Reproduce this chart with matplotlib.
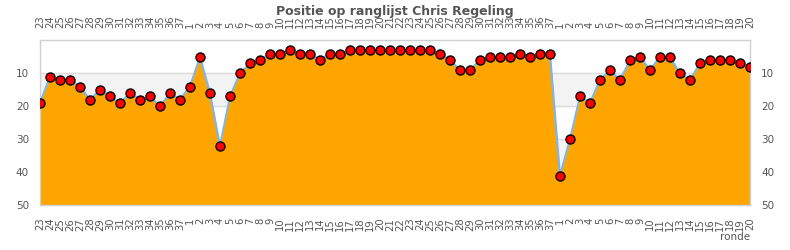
import matplotlib
matplotlib.use("Agg")
import matplotlib.pyplot as plt
import numpy as np

# rondes per seizoen (labels op de x-as)
rondes_1 = [23, 24, 25, 26, 27, 28, 29, 30, 31, 32, 33, 34, 35, 36, 37]
rondes_2 = [1, 2, 3, 4, 5, 6, 7, 8, 9, 10, 11, 12, 13, 14, 15, 16, 17, 18, 19,
            20, 21, 22, 23, 24, 25, 26, 27, 28, 29, 30, 31, 32, 33, 34, 35, 36, 37]
rondes_3 = [1, 2, 3, 4, 5, 6, 7, 8, 9, 10, 11, 12, 13, 14, 15, 16, 17, 18, 19, 20]

# positie op de ranglijst
positie_1 = [19, 11, 12, 12, 14, 18, 15, 17, 19, 16, 18, 17, 20, 16, 18]
positie_2 = [14, 5, 16, 32, 17, 10, 7, 6, 4, 4, 3, 4, 4, 6, 4, 4, 3, 3, 3,
             3, 3, 3, 3, 3, 3, 4, 6, 9, 9, 6, 5, 5, 5, 4, 5, 4, 4]
positie_3 = [41, 30, 17, 19, 12, 9, 12, 6, 5, 9, 5, 5, 10, 12, 7, 6, 6, 6, 7, 8]

labels = [str(r) for r in rondes_1 + rondes_2 + rondes_3]
positie = np.array(positie_1 + positie_2 + positie_3)
x = np.arange(len(positie))

fig = plt.figure(figsize=(7.9, 2.5), dpi=100)
ax = fig.add_axes([40 / 790, 1 - 205.3 / 250, 710 / 790, 165 / 250])

# banden op de achtergrond
ax.axhspan(10, 20, color='#f3f3f3', zorder=0)
ax.axhspan(30, 40, color='#f3f3f3', zorder=0)
for yy in [10, 20, 30, 40]:
    ax.axhline(yy, color='#dcdcdc', lw=1, zorder=0.5)

ax.fill_between(x, positie, 50, color='#FFA500', lw=0, zorder=1)
ax.plot(x, positie, color='#7cb5ec', lw=1.5, zorder=2)
ax.plot(x, positie, 'o', ms=6.5, mfc='#ff0000', mec='black', mew=1, zorder=3)

ax.set_xlim(0, len(positie) - 1)
ax.set_ylim(50, 0)
ax.set_yticks([10, 20, 30, 40, 50])
ax.set_xticks(x)
ax.set_xticklabels(labels, rotation=90)

ax.tick_params(axis='x', length=0, pad=9, labelsize=7.2, labelcolor='#555555',
               labeltop=True, labelbottom=True)
ax.tick_params(axis='y', length=0, pad=8, labelsize=7.5, labelcolor='#555555',
               labelleft=True, labelright=True)

for s in ax.spines.values():
    s.set_color('#d0d0d0')
    s.set_linewidth(1)

fig.text(0.5, 0.955, 'Positie op ranglijst Chris Regeling', ha='center', va='center',
         fontsize=9, fontweight='bold', color='#555555')
fig.text(750 / 790, 1 - 237 / 250, 'ronde', ha='right', va='center',
         fontsize=7.5, color='#555555')

fig.savefig('out.png', dpi=100)
